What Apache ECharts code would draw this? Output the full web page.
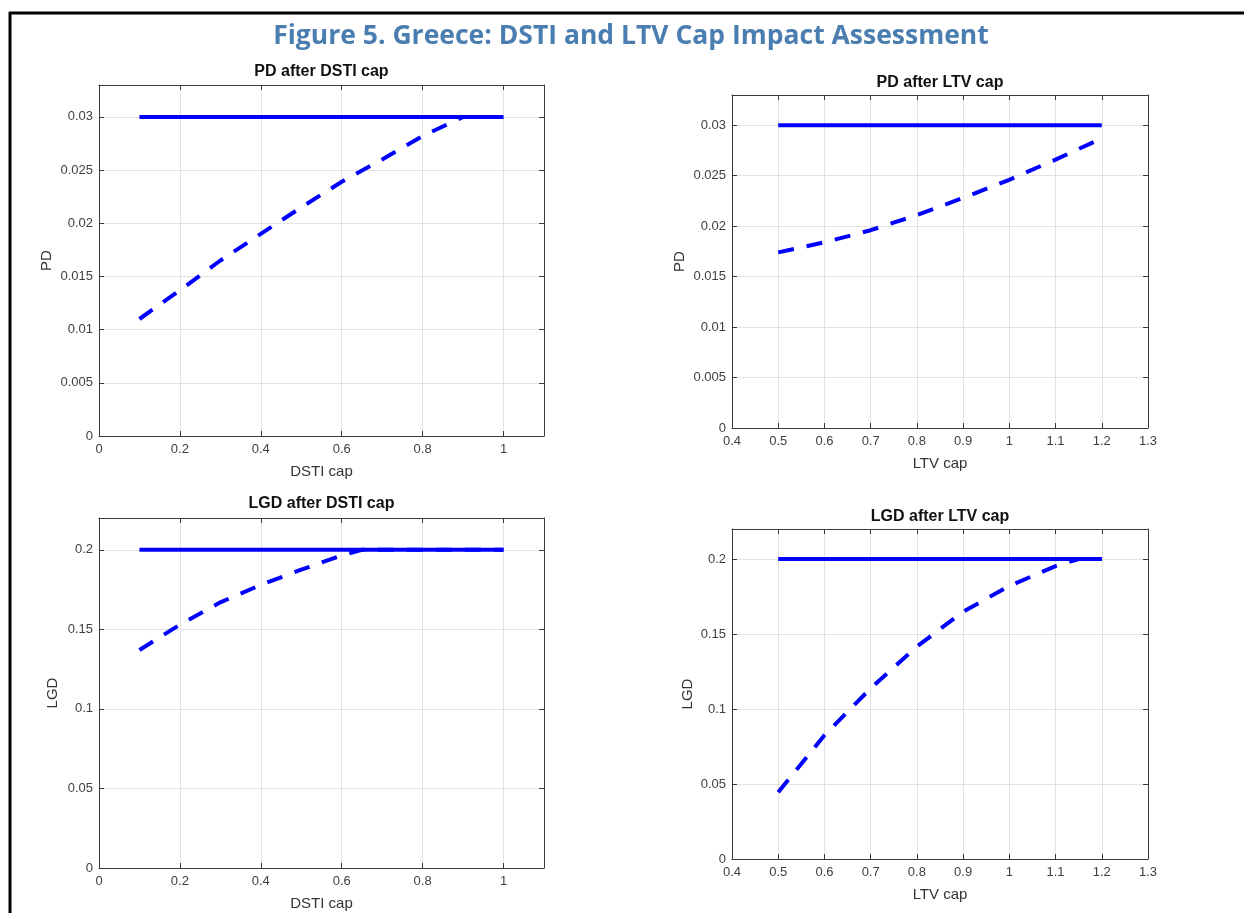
<!DOCTYPE html>
<html>
<head>
<meta charset="utf-8">
<script src="https://cdn.jsdelivr.net/npm/echarts@6/dist/echarts.min.js"></script>
<style>
  html, body { margin: 0; padding: 0; background: #fff; }
  #chart { width: 1244px; height: 913px; }
</style>
</head>
<body>
<div id="chart"></div>
<script>
// ---- Data ----
const mainTitle = 'Figure 5. Greece: DSTI and LTV Cap Impact Assessment';
const panelTitles = ['PD after DSTI cap', 'PD after LTV cap', 'LGD after DSTI cap', 'LGD after LTV cap'];
const xNames = ['DSTI cap', 'LTV cap', 'DSTI cap', 'LTV cap'];
const yNames = ['PD', 'PD', 'LGD', 'LGD'];

// axis ranges: [min, max, interval]
const dstiAxis = [0, 1.1, 0.2];
const ltvAxis = [0.4, 1.3, 0.1];
const pdAxis = [0, 0.033, 0.005];
const lgdAxis = [0, 0.22, 0.05];

// PD after DSTI cap
const pdDstiX = [0.1, 0.2, 0.3, 0.4, 0.5, 0.6, 0.7, 0.8, 0.9, 1.0];
const pdDstiBase = [0.03, 0.03, 0.03, 0.03, 0.03, 0.03, 0.03, 0.03, 0.03, 0.03];
const pdDstiCap = [0.011, 0.0137, 0.0165, 0.019, 0.0215, 0.0239, 0.026, 0.0282, 0.0300, 0.0300];

// PD after LTV cap
const pdLtvX = [0.5, 0.6, 0.7, 0.8, 0.9, 1.0, 1.1, 1.2];
const pdLtvBase = [0.03, 0.03, 0.03, 0.03, 0.03, 0.03, 0.03, 0.03];
const pdLtvCap = [0.0174, 0.0184, 0.0196, 0.0211, 0.0228, 0.0246, 0.0266, 0.0287];

// LGD after DSTI cap
const lgdDstiX = [0.1, 0.2, 0.3, 0.4, 0.5, 0.6, 0.65, 0.7, 0.8, 0.9, 1.0];
const lgdDstiBase = [0.2, 0.2, 0.2, 0.2, 0.2, 0.2, 0.2, 0.2, 0.2, 0.2, 0.2];
const lgdDstiCap = [0.137, 0.153, 0.167, 0.178, 0.1875, 0.1965, 0.2, 0.2, 0.2, 0.2, 0.2];

// LGD after LTV cap
const lgdLtvX = [0.5, 0.6, 0.7, 0.8, 0.9, 1.0, 1.1, 1.15, 1.2];
const lgdLtvBase = [0.2, 0.2, 0.2, 0.2, 0.2, 0.2, 0.2, 0.2, 0.2];
const lgdLtvCap = [0.0445, 0.0825, 0.1138, 0.1416, 0.1649, 0.182, 0.1953, 0.2, 0.2];

// ---- Layout / style ----
const grids = [
  { left: 99, top: 85, width: 445, height: 351 },
  { left: 732, top: 95, width: 416, height: 333 },
  { left: 99, top: 518, width: 445, height: 350 },
  { left: 732, top: 529, width: 416, height: 330 }
];
const titleY = [72, 83, 504, 517];
const yNameGap = [45, 45, 39, 37];
const panels = [
  { xr: dstiAxis, yr: pdAxis, x: pdDstiX, base: pdDstiBase, cap: pdDstiCap },
  { xr: ltvAxis, yr: pdAxis, x: pdLtvX, base: pdLtvBase, cap: pdLtvCap },
  { xr: dstiAxis, yr: lgdAxis, x: lgdDstiX, base: lgdDstiBase, cap: lgdDstiCap },
  { xr: ltvAxis, yr: lgdAxis, x: lgdLtvX, base: lgdLtvBase, cap: lgdLtvCap }
];

const FONT = 'Liberation Sans, Arial, sans-serif';
const axisColor = '#3a3a3a';
const labelColor = '#404040';
const gridColor = '#e2e2e2';
const blue = '#0000ff';
const fmt = v => String(Number(v.toFixed(4)));
const zip = (xs, ys) => xs.map((x, i) => [x, ys[i]]);

const xAxes = [], yAxes = [], series = [], graphics = [];
panels.forEach((p, i) => {
  const common = {
    gridIndex: i,
    type: 'value',
    axisLine: { show: true, onZero: false, lineStyle: { color: axisColor, width: 1 } },
    axisTick: { show: true, inside: true, length: 5, lineStyle: { color: axisColor } }
  };
  xAxes.push(Object.assign({}, common, {
    position: 'bottom',
    min: p.xr[0], max: p.xr[1], interval: p.xr[2],
    name: xNames[i], nameLocation: 'middle', nameGap: 28,
    nameTextStyle: { fontFamily: FONT, fontSize: 15, color: '#333' },
    axisLabel: { fontFamily: FONT, fontSize: 13, color: labelColor, margin: 7, formatter: fmt, showMaxLabel: p.xr[1] === 1.3 },
    splitLine: { show: true, lineStyle: { color: gridColor, width: 1 } }
  }));
  xAxes.push(Object.assign({}, common, {
    position: 'top',
    min: p.xr[0], max: p.xr[1], interval: p.xr[2],
    axisLabel: { show: false }, splitLine: { show: false }
  }));
  yAxes.push(Object.assign({}, common, {
    position: 'left',
    min: p.yr[0], max: p.yr[1], interval: p.yr[2],
    name: yNames[i], nameLocation: 'middle', nameGap: yNameGap[i],
    nameTextStyle: { fontFamily: FONT, fontSize: 15, color: '#333' },
    axisLabel: { fontFamily: FONT, fontSize: 13, color: labelColor, margin: 6, formatter: fmt, showMaxLabel: false },
    splitLine: { show: true, lineStyle: { color: gridColor, width: 1 } }
  }));
  yAxes.push(Object.assign({}, common, {
    position: 'right',
    min: p.yr[0], max: p.yr[1], interval: p.yr[2],
    axisLabel: { show: false }, splitLine: { show: false }
  }));
  series.push({
    type: 'line', xAxisIndex: 2 * i, yAxisIndex: 2 * i,
    data: zip(p.x, p.base), showSymbol: false, symbol: 'none',
    lineStyle: { color: blue, width: 4 }, animation: false, silent: true
  });
  series.push({
    type: 'line', xAxisIndex: 2 * i, yAxisIndex: 2 * i,
    data: zip(p.x, p.cap), showSymbol: false, symbol: 'none',
    lineStyle: { color: blue, width: 4, type: [16, 13] }, animation: false, silent: true
  });
  const g = grids[i];
  graphics.push({
    type: 'text', x: g.left + g.width / 2, y: titleY[i],
    style: { text: panelTitles[i], textAlign: 'center', textVerticalAlign: 'middle',
      font: 'bold 16px ' + FONT, fill: '#111' }
  });
});

graphics.push({
  type: 'text', x: 631, y: 36,
  style: { text: mainTitle, textAlign: 'center', textVerticalAlign: 'middle',
    font: '700 26.5px "Open Sans", sans-serif', fill: '#4a7eb0' }
});
graphics.push({ type: 'line', shape: { x1: 9, y1: 13, x2: 1244, y2: 13 }, style: { stroke: '#000', lineWidth: 3 } });
graphics.push({ type: 'line', shape: { x1: 10, y1: 12, x2: 10, y2: 913 }, style: { stroke: '#000', lineWidth: 3 } });

const chart = echarts.init(document.getElementById('chart'), null, { renderer: 'canvas' });
chart.setOption({
  backgroundColor: '#fff',
  animation: false,
  grid: grids.map(g => Object.assign({ containLabel: false }, g)),
  xAxis: xAxes,
  yAxis: yAxes,
  series: series,
  graphic: graphics
});
</script>
</body>
</html>
